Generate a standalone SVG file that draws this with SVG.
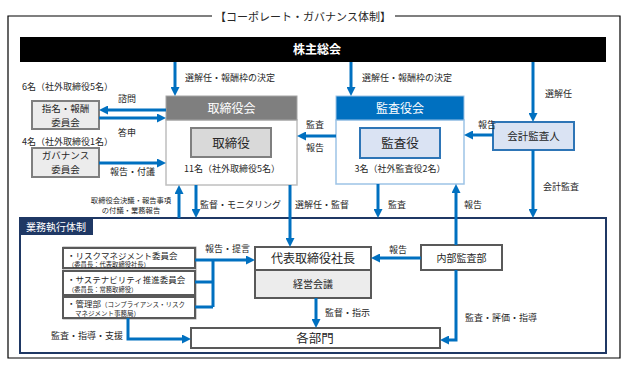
<svg xmlns="http://www.w3.org/2000/svg" width="630" height="367" viewBox="0 0 630 367">
<defs>
<marker id="ah" viewBox="0 0 10 10" refX="3.3" refY="5" markerWidth="9" markerHeight="9" markerUnits="userSpaceOnUse" orient="auto"><path d="M0,0 L10,5 L0,10 z" fill="#0070c0"/></marker>
</defs>
<style>
text{font-family:"Noto Sans CJK JP","Noto Sans",sans-serif;fill:#262626}
.c{text-anchor:middle}
.lb{font-size:9px}
.ar{fill:none;stroke:#0070c0;stroke-width:3;marker-end:url(#ah)}
.ln{fill:none;stroke:#0070c0;stroke-width:3}
.gbox{fill:#ececec;stroke:#7f7f7f;stroke-width:2}
.wbox{fill:#fff;stroke:#595959;stroke-width:2}
</style>
<rect width="630" height="367" fill="#fff"/>
<g id="frame">
<path d="M212,16 H8 V358 H620 V16 H395" fill="none" stroke="#000" stroke-width="1.2"/>
<text x="303" y="21" class="c" font-size="11">【コーポレート・ガバナンス体制】</text>
</g>
<g id="shareholders">
<rect x="20" y="37" width="586" height="25" fill="#000"/>
<text x="317" y="54" class="c" font-size="12" font-weight="bold" style="fill:#fff">株主総会</text>
</g>
<g id="board">
<rect x="166" y="120" width="131" height="65" fill="#fff" stroke="#bfbfbf" stroke-width="1.5"/>
<rect x="166" y="96" width="131" height="24" fill="#7f7f7f" stroke="#a6a6a6" stroke-width="1"/>
<text x="231.5" y="113" class="c" font-size="12" style="fill:#fff">取締役会</text>
<rect x="191" y="128" width="80" height="29" fill="#d9d9d9" stroke="#7f7f7f" stroke-width="2"/>
<text x="231" y="147.5" class="c" font-size="12.5">取締役</text>
<text x="232" y="172" class="c" font-size="9">11名（社外取締役5名）</text>
</g>
<g id="auditboard">
<rect x="336" y="120" width="128" height="64" fill="#fff" stroke="#9dc3e6" stroke-width="1.5"/>
<rect x="336" y="96" width="128" height="24" fill="#0070c0" stroke="#9dc3e6" stroke-width="1"/>
<text x="400" y="113" class="c" font-size="12" style="fill:#fff">監査役会</text>
<rect x="360" y="128" width="80" height="30" fill="#dae3f3" stroke="#2e75b6" stroke-width="2"/>
<text x="400" y="147.5" class="c" font-size="12.5">監査役</text>
<text x="400" y="172" class="c" font-size="9">3名（社外監査役2名）</text>
</g>
<g id="accountant">
<rect x="493" y="122" width="81" height="28" fill="#dae3f3" stroke="#2e75b6" stroke-width="2"/>
<text x="533.5" y="140" class="c" font-size="10.5">会計監査人</text>
</g>
<g id="nomination">
<text x="22" y="90" font-size="9">6名（社外取締役5名）</text>
<rect x="32" y="101" width="67" height="28" class="gbox"/>
<text x="65.5" y="111.5" class="c" font-size="9.5">指名・報酬</text>
<text x="65.5" y="125.5" class="c" font-size="9.5">委員会</text>
</g>
<g id="governance">
<text x="22" y="145" font-size="9">4名（社外取締役1名）</text>
<rect x="32" y="148" width="67" height="29" class="gbox"/>
<text x="65.5" y="159" class="c" font-size="9.5">ガバナンス</text>
<text x="65.5" y="173" class="c" font-size="9.5">委員会</text>
</g>
<g id="execution">
<rect x="20" y="218" width="586" height="135" fill="none" stroke="#1f3864" stroke-width="2"/>
<rect x="20" y="218" width="73" height="17" fill="#1f3864"/>
<text x="56" y="230.5" class="c" font-size="10" style="fill:#fff">業務執行体制</text>
</g>
<g id="committees">
<rect x="63" y="247" width="133" height="72" fill="#d9d9d9" stroke="#a6a6a6" stroke-width="1"/>
<rect x="63" y="248" width="132" height="20" class="wbox"/>
<text x="67" y="259" font-size="8.5">・リスクマネジメント委員会</text>
<text x="68" y="266.5" font-size="6.3">（委員長：代表取締役社長）</text>
<rect x="63" y="271" width="132" height="24" class="wbox"/>
<text x="67" y="283" font-size="8.5">・サステナビリティ推進委員会</text>
<text x="68" y="292" font-size="6.3">（委員長：常務取締役）</text>
<rect x="63" y="297" width="132" height="21" class="wbox"/>
<text x="67" y="307" font-size="8.5">・管理部<tspan font-size="6.5">（コンプライアンス・リスク</tspan></text>
<text x="75" y="315.5" font-size="6.5">マネジメント事務局）</text>
</g>
<g id="president">
<rect x="255" y="247" width="116" height="23" class="wbox"/>
<text x="313" y="263" class="c" font-size="12">代表取締役社長</text>
</g>
<g id="management">
<rect x="255" y="270" width="116" height="28" fill="#ececec" stroke="#595959" stroke-width="2"/>
<text x="313" y="288" class="c" font-size="10">経営会議</text>
</g>
<g id="internalaudit">
<rect x="421" y="245" width="81" height="25" class="wbox"/>
<text x="461.5" y="261.5" class="c" font-size="10">内部監査部</text>
</g>
<g id="departments">
<rect x="191" y="328" width="249" height="20" class="wbox"/>
<text x="315" y="343" class="c" font-size="12.5">各部門</text>
</g>
<g id="connectors">
<path class="ar" d="M175,62 V90"/>
<path class="ar" d="M351,62 V90"/>
<path class="ar" d="M533,62 V116"/>
<path class="ar" d="M493,135 H470"/>
<path class="ar" d="M336,136 H303"/>
<path class="ar" d="M166,110 H105"/>
<path class="ar" d="M99,118 H160"/>
<path class="ar" d="M99,163 H160"/>
<path class="ar" d="M179,218 V191"/>
<path class="ar" d="M196,185 V212"/>
<path class="ar" d="M290,185 V241"/>
<path class="ar" d="M378,184 V212"/>
<path class="ar" d="M456,245 V190"/>
<path class="ar" d="M533,150 V212"/>
<path class="ar" d="M195,260 H249"/>
<path class="ln" d="M213,260 V307 M195,282 H213 M195,307 H213"/>
<path class="ar" d="M128,318 V339 H185"/>
<path class="ar" d="M316,298 V322"/>
<path class="ar" d="M421,258 H377"/>
<path class="ar" d="M456,270 V340 H446"/>
<text x="185" y="81" class="lb">選解任・報酬枠の決定</text>
<text x="362" y="81" class="lb">選解任・報酬枠の決定</text>
<text x="545" y="97" class="lb">選解任</text>
<text x="478" y="128" class="lb">報告</text>
<text x="306" y="128" class="lb">監査</text>
<text x="306" y="151" class="lb">報告</text>
<text x="127" y="102" class="c lb">諮問</text>
<text x="127" y="136" class="c lb">答申</text>
<text x="110" y="175" class="lb">報告・付議</text>
<text x="131" y="203" class="c" font-size="7.3">取締役会決議・報告事項</text>
<text x="131" y="213" class="c" font-size="7.3">の付議・業務報告</text>
<text x="200" y="208" class="lb">監督・モニタリング</text>
<text x="295" y="208" class="lb">選解任・監督</text>
<text x="388" y="208" class="lb">監査</text>
<text x="464" y="208" class="lb">報告</text>
<text x="543" y="190" class="lb">会計監査</text>
<text x="205" y="252" class="lb">報告・提言</text>
<text x="389" y="253" class="lb">報告</text>
<text x="325" y="316" class="lb">監督・指示</text>
<text x="465" y="321" class="lb">監査・評価・指導</text>
<text x="87" y="339" class="c lb">監査・指導・支援</text>
</g>
</svg>
